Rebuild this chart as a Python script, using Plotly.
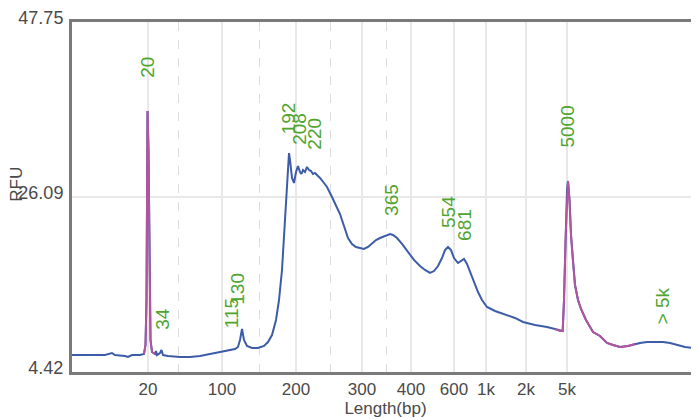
import plotly.graph_objects as go

# Migration position (arbitrary run units) and fluorescence (RFU)
position = [0, 18, 33, 40, 43, 53, 56, 60, 68, 72, 73.5, 74.5, 75, 75.5, 76.5, 77.5, 78.5, 80,
            83, 84, 85, 88, 89.5, 91, 96, 108, 118, 128, 138, 148, 156, 163, 166, 168, 170, 172,
            175, 180, 186, 192, 196, 200, 204, 207, 210, 212, 214, 216, 217, 218, 220, 222, 224,
            226, 228, 229.5, 231, 233, 235, 237, 239, 241, 243, 246, 248, 252, 255, 260, 264, 268,
            272, 276, 280, 284, 288, 292, 296, 300, 304, 308, 313, 318, 321, 325, 330, 336, 342,
            348, 353, 358, 362, 366, 370, 373, 376, 379, 382, 386, 389, 392, 395, 398, 402, 406,
            410, 415, 423, 435, 443, 451, 463, 475, 483, 488, 490.7, 492, 493.5, 495, 496, 497.5,
            499, 501, 503, 506, 509, 514, 521, 528, 535, 541, 548, 556, 563, 568, 575, 583, 591,
            598, 605, 613, 620, 627]
rfu = [6.52, 6.52, 6.52, 6.77, 6.52, 6.40, 6.28, 6.52, 6.52, 6.65, 7.76, 13.33, 25.71, 36.73,
       31.90, 15.81, 8.38, 6.90, 6.65, 7.02, 6.52, 6.77, 7.14, 6.52, 6.40, 6.28, 6.28, 6.40,
       6.65, 6.90, 7.02, 7.27, 7.52, 8.38, 9.74, 8.38, 7.64, 7.39, 7.39, 7.64, 8.13, 9.00,
       10.86, 13.33, 17.05, 21.38, 26.33, 30.67, 31.53, 30.67, 28.44, 27.82, 29.18, 29.92,
       29.18, 28.93, 29.43, 29.18, 29.80, 29.43, 29.30, 28.93, 29.06, 28.68, 28.44, 27.82,
       27.32, 26.09, 25.09, 23.98, 22.49, 21.01, 20.27, 19.90, 19.77, 19.65, 19.90, 20.39,
       20.76, 21.01, 21.26, 21.50, 21.38, 21.01, 20.27, 19.28, 18.29, 17.54, 17.05, 16.68,
       16.92, 17.54, 18.53, 19.52, 19.90, 19.52, 18.53, 17.91, 18.16, 18.41, 17.79, 16.80,
       15.56, 14.32, 13.33, 12.47, 11.97, 11.48, 11.11, 10.61, 10.24, 9.99, 9.74, 9.50, 9.50,
       13.33, 20.76, 26.95, 28.07, 25.71, 21.38, 18.04, 15.19, 13.33, 12.22, 10.86, 9.37,
       8.88, 8.01, 7.76, 7.52, 7.64, 7.89, 8.01, 8.13, 8.13, 8.13, 8.01, 7.76, 7.52, 7.39]

# Ladder (marker) peaks drawn in magenta: index ranges into the arrays above
ladder_ranges = [(9, 18), (112, 132)]

# Axis ticks
tick_pos = [76, 150, 224, 290, 339, 382, 414, 454, 495]
tick_text = ["20", "100", "200", "300", "400", "600", "1k", "2k", "5k"]
minor_pos = [106, 187, 258, 314]
y_ticks = [4.42, 26.09, 47.75]

# Peak labels: text, position, RFU at label base
peak_text = ["20", "34", "115", "130", "192", "208", "220", "365", "554", "681", "5000", "> 5k"]
peak_pos = [75.5, 91, 159, 166, 216, 228, 243, 320, 376, 393, 495.5, 590]
peak_base = [40.6, 9.4, 9.6, 12.5, 33.6, 32.3, 31.7, 23.5, 22.0, 20.4, 31.9, 10.0]

BLUE = "#3c5ca8"
MAGENTA = "#b2549e"
GREEN = "#4fa530"
GRID = "#e8e8e8"
AXIS = "#7a7a7a"
TXT = "#4a4a4a"
FONT = "Liberation Sans, Arial, sans-serif"

fig = go.Figure()
fig.add_trace(go.Scatter(x=position, y=rfu, mode="lines",
                         line=dict(color=BLUE, width=2), hoverinfo="skip"))
for a, b in ladder_ranges:
    fig.add_trace(go.Scatter(x=position[a:b + 1], y=rfu[a:b + 1], mode="lines",
                             line=dict(color=MAGENTA, width=2), hoverinfo="skip"))

for t, p, v in zip(peak_text, peak_pos, peak_base):
    fig.add_annotation(x=p, y=v, text=t, textangle=-90, showarrow=False,
                       xanchor="center", yanchor="bottom",
                       font=dict(family=FONT, size=19, color=GREEN))

fig.add_annotation(xref="paper", x=0, xshift=-55, yref="y", y=27.6, text="RFU",
                   textangle=-90, showarrow=False, xanchor="center", yanchor="middle",
                   font=dict(family=FONT, size=17, color=TXT))

fig.update_layout(
    width=691, height=411,
    margin=dict(l=64, r=0, t=14, b=47, autoexpand=False),
    paper_bgcolor="white", plot_bgcolor="white",
    showlegend=False,
    font=dict(family=FONT, size=18, color=TXT),
    xaxis=dict(range=[0, 627], tickmode="array", tickvals=tick_pos, ticktext=tick_text,
               showgrid=True, gridcolor=GRID, gridwidth=1.5, zeroline=False,
               showline=True, linecolor=AXIS, linewidth=3, mirror=True, ticks="",
               tickfont=dict(size=17, color=TXT),
               minor=dict(tickmode="array", tickvals=minor_pos, showgrid=True,
                          gridcolor="#dcdcdc", griddash="dash", gridwidth=1, ticks=""),
               title=dict(text="Length(bp)", standoff=0, font=dict(size=17, color=TXT))),
    yaxis=dict(range=[4.42, 47.75], tickmode="array", tickvals=y_ticks,
               ticktext=["4.42", "26.09", "47.75"], showgrid=True, gridcolor=GRID,
               gridwidth=1.5, zeroline=False, showline=True, linecolor=AXIS, linewidth=3,
               ticks="", ticklabelstandoff=2, ticklabelshift=-4,
               tickfont=dict(size=18, color=TXT)),
)

fig.write_html("out.html")
